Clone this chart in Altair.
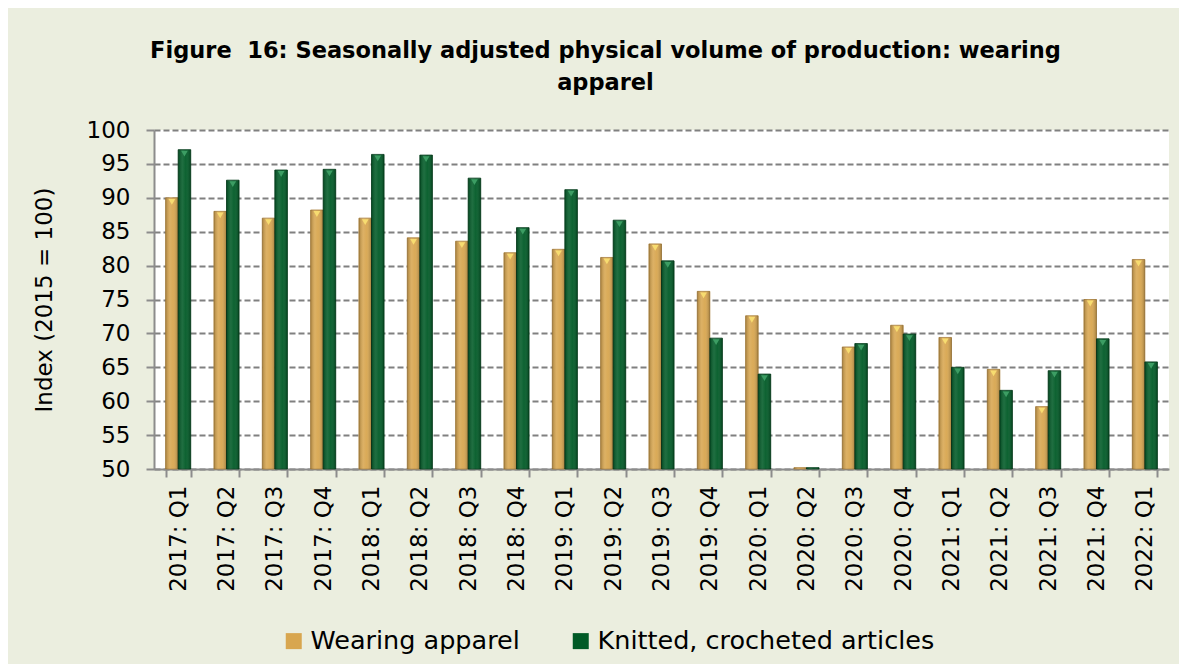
import altair as alt
import pandas as pd

quarters = ["2017: Q1", "2017: Q2", "2017: Q3", "2017: Q4",
            "2018: Q1", "2018: Q2", "2018: Q3", "2018: Q4",
            "2019: Q1", "2019: Q2", "2019: Q3", "2019: Q4",
            "2020: Q1", "2020: Q2", "2020: Q3", "2020: Q4",
            "2021: Q1", "2021: Q2", "2021: Q3", "2021: Q4",
            "2022: Q1"]
wearing = [90.0, 88.0, 87.0, 88.2, 87.0, 84.1, 83.6, 81.9, 82.4, 81.2, 83.2,
           76.2, 72.6, 50.2, 68.0, 71.2, 69.4, 64.7, 59.2, 75.0, 80.9]
knitted = [97.1, 92.6, 94.1, 94.2, 96.4, 96.3, 92.9, 85.6, 91.2, 86.7, 80.7,
           69.3, 64.0, 50.2, 68.5, 69.9, 65.0, 61.6, 64.5, 69.2, 65.8]
series_names = ["Wearing apparel", "Knitted, crocheted articles"]
bar_colors = ["#D8A64F", "#005A26"]
edge_colors = ["#A87F3A", "#003A18"]
cap_colors = ["#F7DC70", "#3C9D63"]

rows = []
for i, q in enumerate(quarters):
    rows.append({"quarter": q, "series": series_names[0], "value": wearing[i], "cap": cap_colors[0]})
    rows.append({"quarter": q, "series": series_names[1], "value": knitted[i], "cap": cap_colors[1]})
df = pd.DataFrame(rows)

FONT = "DejaVu Sans"

x_enc = alt.X("quarter:N", sort=quarters, title=None,
              scale=alt.Scale(paddingInner=0.48, paddingOuter=0.24),
              axis=alt.Axis(labelAngle=270, tickBand="extent", labelFontSize=23,
                            labelFont=FONT, labelColor="black", labelPadding=8,
                            tickSize=8, tickColor="#8C8C8C", tickWidth=2,
                            domainColor="#8C8C8C", domainWidth=2, grid=False))
xoff_enc = alt.XOffset("series:N", sort=series_names)
y_enc = alt.Y("value:Q",
              scale=alt.Scale(domain=[50, 100], zero=False, nice=False),
              axis=alt.Axis(values=list(range(50, 101, 5)), title="Index (2015 = 100)",
                            titleFontSize=23, titleFont=FONT, titleFontWeight="normal",
                            titleColor="black", titlePadding=30,
                            labelFontSize=23, labelFont=FONT, labelColor="black",
                            labelPadding=16, tickSize=8, tickColor="#8C8C8C", tickWidth=2,
                            domainColor="#8C8C8C", domainWidth=2,
                            grid=True, gridColor="#808080", gridWidth=2, gridDash=[6, 3]))

base = alt.Chart(df)

bars = base.mark_bar(strokeWidth=0.8).encode(
    x=x_enc, xOffset=xoff_enc, y=y_enc, y2=alt.datum(50),
    color=alt.Color("series:N", sort=series_names,
                    scale=alt.Scale(domain=series_names, range=bar_colors),
                    legend=alt.Legend(title=None, orient="none", legendX=127, legendY=498,
                                      direction="horizontal", symbolType="square",
                                      symbolSize=256, symbolStrokeWidth=0,
                                      labelFontSize=25.5, labelFont=FONT, labelColor="black",
                                      labelLimit=0, labelOffset=4, columnPadding=48)),
    stroke=alt.Stroke("series:N", sort=series_names,
                      scale=alt.Scale(domain=series_names, range=edge_colors), legend=None),
)

shade = base.mark_bar(
    color=alt.Gradient(
        gradient="linear", x1=0, x2=1, y1=0, y2=0,
        stops=[alt.GradientStop(offset=0, color="rgba(0,0,0,0.22)"),
               alt.GradientStop(offset=0.35, color="rgba(255,255,255,0.12)"),
               alt.GradientStop(offset=0.6, color="rgba(255,255,255,0.05)"),
               alt.GradientStop(offset=1, color="rgba(0,0,0,0.25)")]),
).encode(x=x_enc, xOffset=xoff_enc, y=y_enc, y2=alt.datum(50))

caps = base.mark_point(shape="triangle-down", filled=True, size=45, yOffset=4, opacity=1).encode(
    x=x_enc, xOffset=xoff_enc, y=y_enc,
    color=alt.Color("cap:N", scale=None),
).transform_filter("datum.value > 51")

chart = alt.layer(bars, shade, caps).resolve_scale(color="independent").properties(
    width=1015, height=339,
    autosize=alt.AutoSizeParams(type="none"),
    padding={"left": 146, "top": 122, "right": 10, "bottom": 195},
    background="#EBEEDF",
    title=alt.TitleParams(["Figure\u00a0 16: Seasonally adjusted physical volume of production: wearing",
                           "apparel"],
                          fontSize=22.5, fontWeight="bold", font=FONT, color="black",
                          anchor="middle", dx=-56, offset=25, lineHeight=32),
).configure_view(stroke=None, fill="white")

chart.save("out.html", embed_options={"renderer": "svg", "actions": False})
